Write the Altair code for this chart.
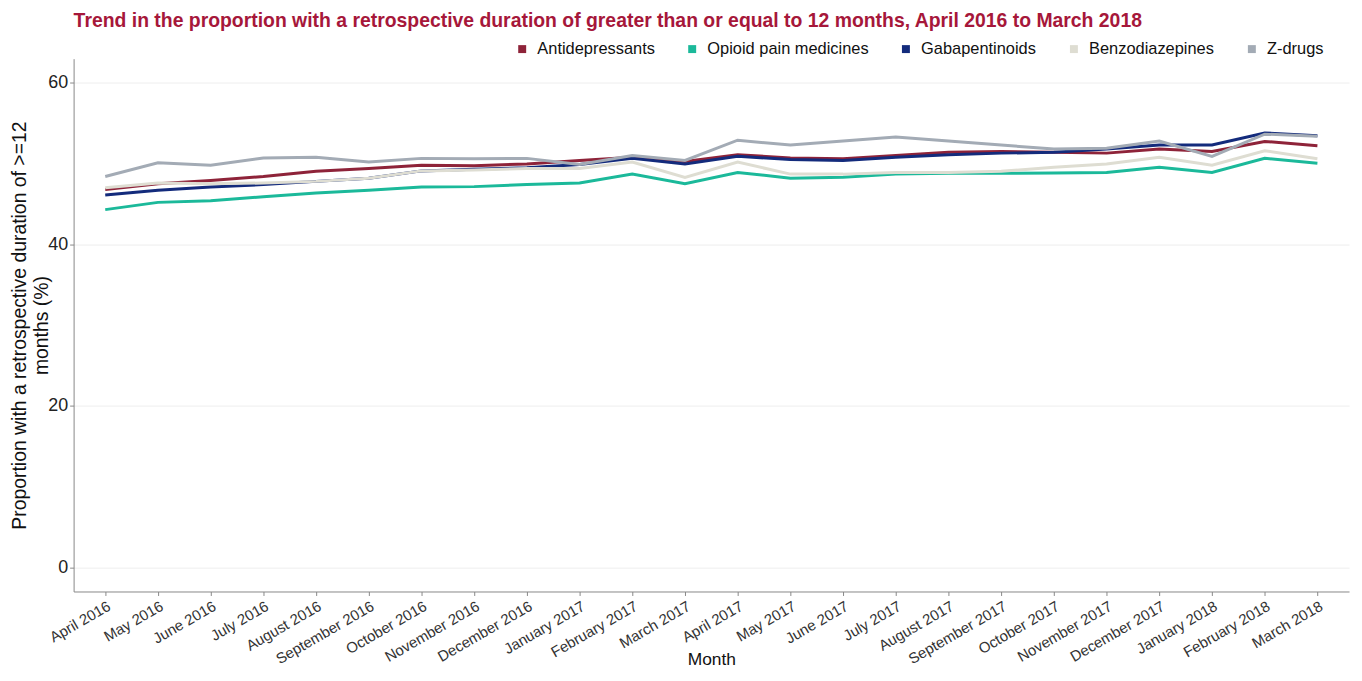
import altair as alt
import pandas as pd

months = ["April 2016", "May 2016", "June 2016", "July 2016", "August 2016", "September 2016",
          "October 2016", "November 2016", "December 2016", "January 2017", "February 2017", "March 2017",
          "April 2017", "May 2017", "June 2017", "July 2017", "August 2017", "September 2017",
          "October 2017", "November 2017", "December 2017", "January 2018", "February 2018", "March 2018"]

drugs = ["Antidepressants", "Opioid pain medicines", "Gabapentinoids", "Benzodiazepines", "Z-drugs"]
colors = ["#8E2339", "#1BB99A", "#132B7C", "#DEDDD2", "#A3ABB5"]

antidepressants = [46.8, 47.5, 47.9, 48.4, 49.05, 49.4, 49.8, 49.75, 49.95, 50.4, 50.8, 50.25,
                   51.1, 50.7, 50.6, 51.0, 51.4, 51.5, 51.4, 51.3, 51.8, 51.5, 52.75, 52.2]
opioid = [44.3, 45.2, 45.4, 45.9, 46.35, 46.7, 47.1, 47.15, 47.4, 47.6, 48.7, 47.5,
          48.9, 48.2, 48.3, 48.7, 48.8, 48.8, 48.85, 48.9, 49.55, 48.9, 50.65, 50.05]
gabapentinoids = [46.1, 46.7, 47.1, 47.4, 47.8, 48.2, 49.1, 49.3, 49.5, 49.9, 50.65, 49.95,
                  50.9, 50.5, 50.4, 50.8, 51.1, 51.3, 51.4, 51.8, 52.3, 52.3, 53.8, 53.45]
benzodiazepines = [47.0, 47.6, 47.5, 47.6, 47.8, 48.2, 49.1, 49.2, 49.4, 49.4, 50.2, 48.3,
                   50.2, 48.7, 48.7, 48.9, 48.9, 49.05, 49.55, 49.95, 50.8, 49.8, 51.6, 50.6]
zdrugs = [48.4, 50.1, 49.8, 50.7, 50.8, 50.2, 50.65, 50.6, 50.65, 49.9, 51.0, 50.4,
          52.9, 52.3, 52.8, 53.3, 52.8, 52.3, 51.8, 51.9, 52.8, 50.9, 53.65, 53.4]

series = [antidepressants, opioid, gabapentinoids, benzodiazepines, zdrugs]
rows = []
for i, (drug, vals) in enumerate(zip(drugs, series)):
    for m, v in zip(months, vals):
        rows.append({"Month": m, "Value": v, "Drug": drug, "order": i})
df = pd.DataFrame(rows)

# legend-only data (no drawable values)
legend_df = pd.DataFrame({"Drug": drugs, "Month": [months[0]] * len(drugs), "Value": [None] * len(drugs)})

FONT = "Liberation Sans"

x_enc = alt.X("Month:O", sort=months,
              scale=alt.Scale(type="point", padding=0.6),
              axis=alt.Axis(title="Month", labelAngle=-30, labelAlign="right", labelBaseline="top",
                            labelFontSize=15, labelColor="#333333", labelPadding=3,
                            tickSize=4, tickColor="#888888", domainColor="#888888",
                            titleFontSize=17.5, titleFontWeight="normal", titleColor="#111111",
                            titleY=68, titleBaseline="middle", grid=False))
y_enc = alt.Y("Value:Q",
              scale=alt.Scale(domain=[-3, 63], nice=False, zero=False),
              axis=alt.Axis(title=["Proportion with a retrospective duration of >=12", "months (%)"],
                            values=[0, 20, 40, 60], labelFontSize=18, labelColor="#222222",
                            labelPadding=2, tickSize=4, tickColor="#888888", domainColor="#888888",
                            gridColor="#EEEEEE", gridWidth=1,
                            titleFontSize=19.5, titleLineHeight=22, titleFontWeight="normal",
                            titleColor="#111111", titleX=-44))
color_scale = alt.Scale(domain=drugs, range=colors)

lines = alt.Chart(df).mark_line(strokeWidth=3).encode(
    x=x_enc,
    y=y_enc,
    color=alt.Color("Drug:N", sort=drugs, scale=color_scale, legend=None),
    order=alt.Order("order:Q"),
)

legend_layer = alt.Chart(legend_df).mark_square(filled=True, size=64, opacity=1).encode(
    x=alt.X("Month:O", sort=months),
    y=alt.Y("Value:Q"),
    color=alt.Color("Drug:N", sort=drugs, scale=color_scale,
                    legend=alt.Legend(title=None, orient="none", direction="horizontal",
                                      legendX=443, legendY=-18,
                                      symbolType="square", symbolSize=64, symbolStrokeWidth=0,
                                      symbolOpacity=1, labelLimit=400,
                                      labelFontSize=16.5, labelColor="#111111", labelOffset=7,
                                      columnPadding=29)),
)

chart = alt.layer(lines, legend_layer).resolve_legend(color="independent").properties(
    width=1283,
    height=536,
    title=alt.TitleParams(
        "Trend in the proportion with a retrospective duration of greater than or equal to 12 months, April 2016 to March 2018",
        anchor="start", frame="group", fontSize=19.5, fontWeight="bold", color="#A6173A",
        offset=9),
    padding={"left": 66, "top": 49, "right": 5, "bottom": 78},
    autosize=alt.AutoSizeParams(type="none"),
).configure(
    font=FONT
).configure_view(
    stroke=None
)

chart.save("out.html", embed_options={"renderer": "svg", "actions": False})
